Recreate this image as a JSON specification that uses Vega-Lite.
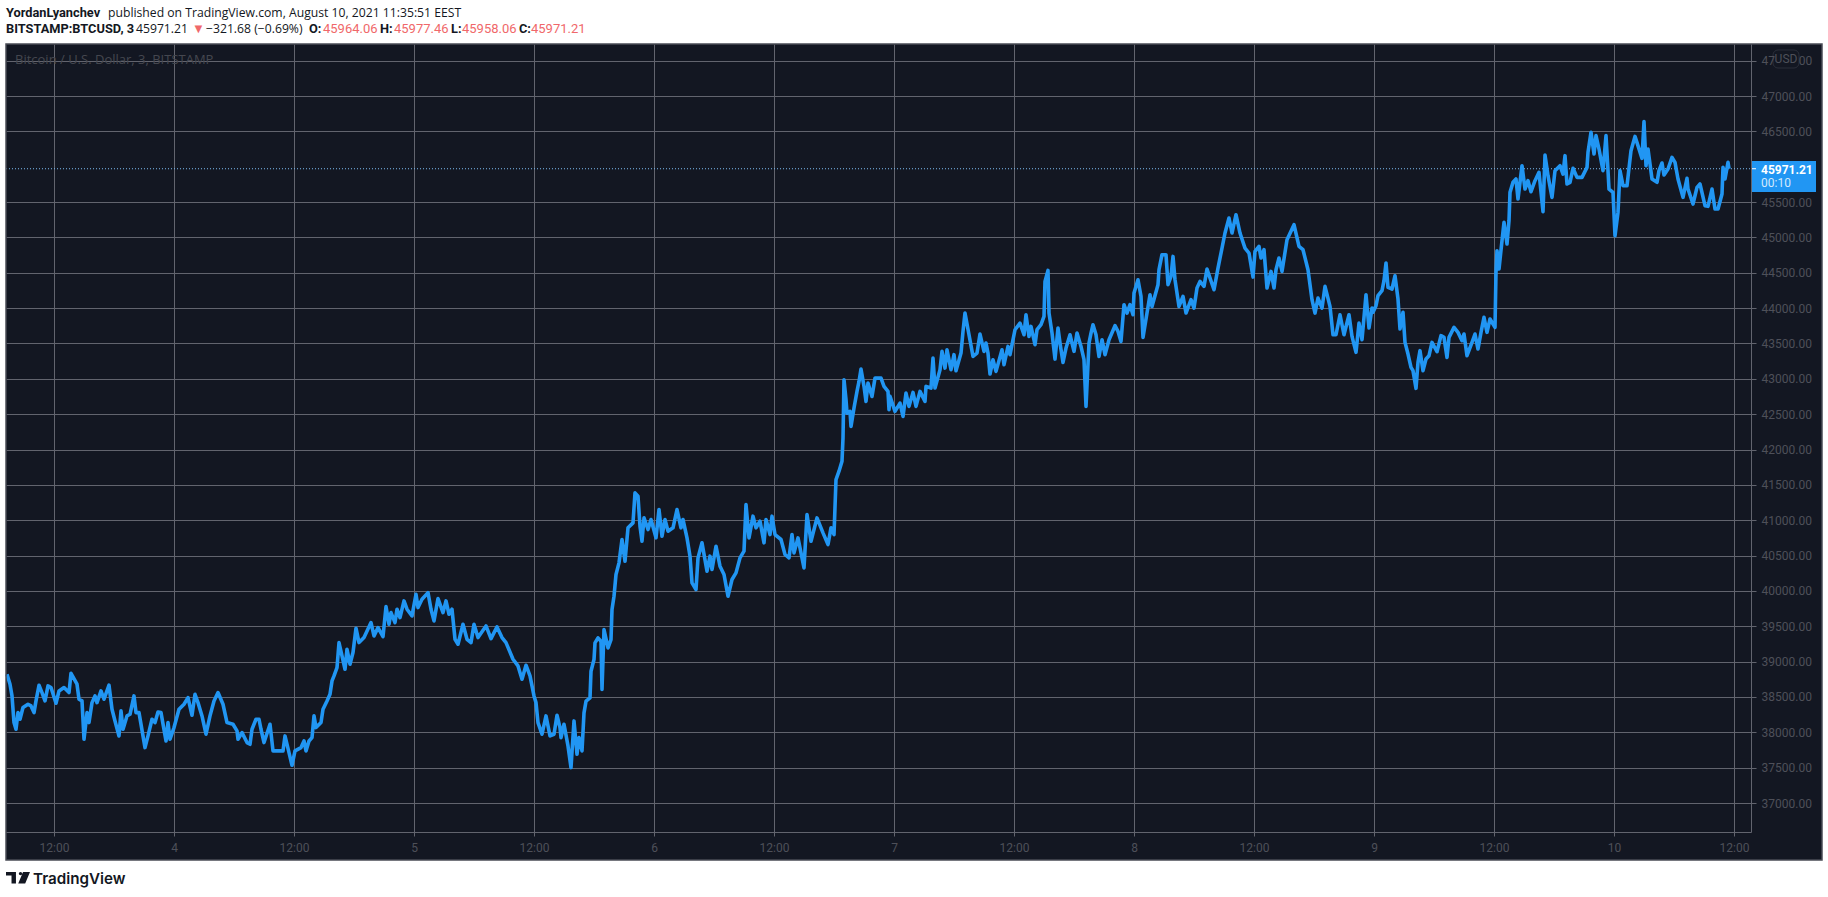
{
"$schema":"https://vega.github.io/schema/vega-lite/v6.json",
"width":1745,"height":788,
"autosize":"none",
"padding":{"left":6,"top":44,"right":77,"bottom":65},
"background":"#ffffff",
"view":{"fill":"#131722","stroke":null},
"config":{"text":{"font":"Roboto"}},
"datasets":{"btc":[
{"t":"2021-08-03T07:18Z","p":38821},{"t":"2021-08-03T07:36Z","p":38680},{"t":"2021-08-03T07:48Z","p":38515},{"t":"2021-08-03T08:00Z","p":38138},{"t":"2021-08-03T08:12Z","p":38043},{"t":"2021-08-03T08:24Z","p":38279},{"t":"2021-08-03T08:36Z","p":38185},{"t":"2021-08-03T08:54Z","p":38350},{"t":"2021-08-03T09:24Z","p":38397},{"t":"2021-08-03T09:42Z","p":38373},{"t":"2021-08-03T10:00Z","p":38279},{"t":"2021-08-03T10:12Z","p":38444},{"t":"2021-08-03T10:30Z","p":38666},{"t":"2021-08-03T10:48Z","p":38562},{"t":"2021-08-03T11:06Z","p":38444},{"t":"2021-08-03T11:24Z","p":38656},{"t":"2021-08-03T11:42Z","p":38633},{"t":"2021-08-03T12:12Z","p":38411},{"t":"2021-08-03T12:30Z","p":38585},{"t":"2021-08-03T13:00Z","p":38633},{"t":"2021-08-03T13:30Z","p":38562},{"t":"2021-08-03T13:42Z","p":38835},{"t":"2021-08-03T14:18Z","p":38680},{"t":"2021-08-03T14:30Z","p":38468},{"t":"2021-08-03T14:48Z","p":38444},{"t":"2021-08-03T15:00Z","p":37902},{"t":"2021-08-03T15:18Z","p":38279},{"t":"2021-08-03T15:30Z","p":38138},{"t":"2021-08-03T15:48Z","p":38420},{"t":"2021-08-03T16:06Z","p":38515},{"t":"2021-08-03T16:18Z","p":38420},{"t":"2021-08-03T16:42Z","p":38585},{"t":"2021-08-03T17:00Z","p":38468},{"t":"2021-08-03T17:30Z","p":38666},{"t":"2021-08-03T17:48Z","p":38326},{"t":"2021-08-03T18:06Z","p":38161},{"t":"2021-08-03T18:30Z","p":37949},{"t":"2021-08-03T18:42Z","p":38303},{"t":"2021-08-03T18:54Z","p":38043},{"t":"2021-08-03T19:18Z","p":38232},{"t":"2021-08-03T19:36Z","p":38255},{"t":"2021-08-03T20:00Z","p":38515},{"t":"2021-08-03T20:12Z","p":38279},{"t":"2021-08-03T20:30Z","p":38279},{"t":"2021-08-03T21:06Z","p":37784},{"t":"2021-08-03T21:24Z","p":37949},{"t":"2021-08-03T21:48Z","p":38185},{"t":"2021-08-03T22:06Z","p":38138},{"t":"2021-08-03T22:24Z","p":38288},{"t":"2021-08-03T22:42Z","p":38279},{"t":"2021-08-03T23:12Z","p":37878},{"t":"2021-08-03T23:24Z","p":38138},{"t":"2021-08-03T23:36Z","p":37902},
{"t":"2021-08-04T00:00Z","p":38067},{"t":"2021-08-04T00:30Z","p":38326},{"t":"2021-08-04T01:00Z","p":38397},{"t":"2021-08-04T01:24Z","p":38491},{"t":"2021-08-04T01:48Z","p":38241},{"t":"2021-08-04T02:06Z","p":38538},{"t":"2021-08-04T02:24Z","p":38420},{"t":"2021-08-04T02:48Z","p":38232},{"t":"2021-08-04T03:12Z","p":37973},{"t":"2021-08-04T03:36Z","p":38232},{"t":"2021-08-04T04:00Z","p":38444},{"t":"2021-08-04T04:24Z","p":38562},{"t":"2021-08-04T04:54Z","p":38397},{"t":"2021-08-04T05:18Z","p":38138},{"t":"2021-08-04T05:54Z","p":38114},{"t":"2021-08-04T06:18Z","p":38020},{"t":"2021-08-04T06:24Z","p":37902},{"t":"2021-08-04T06:48Z","p":37996},{"t":"2021-08-04T07:18Z","p":37855},{"t":"2021-08-04T07:36Z","p":37831},{"t":"2021-08-04T07:48Z","p":38043},{"t":"2021-08-04T08:12Z","p":38185},{"t":"2021-08-04T08:30Z","p":38185},{"t":"2021-08-04T08:42Z","p":38043},{"t":"2021-08-04T09:00Z","p":37855},{"t":"2021-08-04T09:36Z","p":38114},{"t":"2021-08-04T09:54Z","p":37737},{"t":"2021-08-04T10:30Z","p":37737},{"t":"2021-08-04T10:54Z","p":37737},{"t":"2021-08-04T11:06Z","p":37949},{"t":"2021-08-04T11:30Z","p":37713},{"t":"2021-08-04T11:48Z","p":37534},{"t":"2021-08-04T12:06Z","p":37737},{"t":"2021-08-04T12:42Z","p":37784},{"t":"2021-08-04T13:00Z","p":37878},{"t":"2021-08-04T13:12Z","p":37737},{"t":"2021-08-04T13:30Z","p":37878},{"t":"2021-08-04T13:48Z","p":37925},{"t":"2021-08-04T14:00Z","p":38232},{"t":"2021-08-04T14:12Z","p":38067},{"t":"2021-08-04T14:42Z","p":38138},{"t":"2021-08-04T14:54Z","p":38326},{"t":"2021-08-04T15:18Z","p":38444},{"t":"2021-08-04T15:36Z","p":38538},{"t":"2021-08-04T15:48Z","p":38727},{"t":"2021-08-04T16:00Z","p":38798},{"t":"2021-08-04T16:18Z","p":38916},{"t":"2021-08-04T16:30Z","p":39269},{"t":"2021-08-04T16:48Z","p":39081},{"t":"2021-08-04T17:06Z","p":38892},{"t":"2021-08-04T17:18Z","p":39175},{"t":"2021-08-04T17:36Z","p":38963},{"t":"2021-08-04T17:54Z","p":39128},{"t":"2021-08-04T18:12Z","p":39472},{"t":"2021-08-04T18:30Z","p":39269},{"t":"2021-08-04T19:00Z","p":39340},{"t":"2021-08-04T19:42Z","p":39552},{"t":"2021-08-04T20:00Z","p":39363},{"t":"2021-08-04T20:24Z","p":39481},{"t":"2021-08-04T20:54Z","p":39354},{"t":"2021-08-04T21:12Z","p":39778},{"t":"2021-08-04T21:30Z","p":39528},{"t":"2021-08-04T21:42Z","p":39694},{"t":"2021-08-04T22:06Z","p":39552},{"t":"2021-08-04T22:18Z","p":39741},{"t":"2021-08-04T22:36Z","p":39623},{"t":"2021-08-04T23:00Z","p":39859},{"t":"2021-08-04T23:18Z","p":39741},{"t":"2021-08-04T23:48Z","p":39646},
{"t":"2021-08-05T00:12Z","p":39953},{"t":"2021-08-05T00:24Z","p":39764},{"t":"2021-08-05T00:48Z","p":39882},{"t":"2021-08-05T01:24Z","p":39976},{"t":"2021-08-05T01:42Z","p":39741},{"t":"2021-08-05T02:00Z","p":39576},{"t":"2021-08-05T02:24Z","p":39892},{"t":"2021-08-05T02:54Z","p":39694},{"t":"2021-08-05T03:12Z","p":39859},{"t":"2021-08-05T03:30Z","p":39670},{"t":"2021-08-05T03:48Z","p":39741},{"t":"2021-08-05T04:06Z","p":39316},{"t":"2021-08-05T04:24Z","p":39246},{"t":"2021-08-05T04:54Z","p":39528},{"t":"2021-08-05T05:18Z","p":39316},{"t":"2021-08-05T05:42Z","p":39269},{"t":"2021-08-05T06:00Z","p":39528},{"t":"2021-08-05T06:24Z","p":39340},{"t":"2021-08-05T07:12Z","p":39505},{"t":"2021-08-05T07:42Z","p":39326},{"t":"2021-08-05T08:18Z","p":39491},{"t":"2021-08-05T08:48Z","p":39340},{"t":"2021-08-05T09:12Z","p":39269},{"t":"2021-08-05T09:54Z","p":39033},{"t":"2021-08-05T10:24Z","p":38939},{"t":"2021-08-05T10:48Z","p":38751},{"t":"2021-08-05T11:12Z","p":38949},{"t":"2021-08-05T11:36Z","p":38798},{"t":"2021-08-05T12:00Z","p":38515},{"t":"2021-08-05T12:12Z","p":38420},{"t":"2021-08-05T12:24Z","p":38138},{"t":"2021-08-05T12:48Z","p":37973},{"t":"2021-08-05T13:12Z","p":38232},{"t":"2021-08-05T13:36Z","p":37949},{"t":"2021-08-05T14:00Z","p":37973},{"t":"2021-08-05T14:18Z","p":38241},{"t":"2021-08-05T14:36Z","p":38067},{"t":"2021-08-05T14:42Z","p":37925},{"t":"2021-08-05T15:00Z","p":38114},{"t":"2021-08-05T15:24Z","p":37808},{"t":"2021-08-05T15:42Z","p":37501},{"t":"2021-08-05T16:00Z","p":38161},{"t":"2021-08-05T16:18Z","p":37690},{"t":"2021-08-05T16:30Z","p":37925},{"t":"2021-08-05T16:48Z","p":37737},{"t":"2021-08-05T17:00Z","p":38275},{"t":"2021-08-05T17:12Z","p":38440},{"t":"2021-08-05T17:36Z","p":38487},{"t":"2021-08-05T17:42Z","p":38864},{"t":"2021-08-05T18:00Z","p":39029},{"t":"2021-08-05T18:06Z","p":39265},{"t":"2021-08-05T18:24Z","p":39336},{"t":"2021-08-05T18:42Z","p":39289},{"t":"2021-08-05T18:48Z","p":38605},{"t":"2021-08-05T19:00Z","p":39454},{"t":"2021-08-05T19:24Z","p":39194},{"t":"2021-08-05T19:42Z","p":39312},{"t":"2021-08-05T19:48Z","p":39737},{"t":"2021-08-05T20:00Z","p":39925},{"t":"2021-08-05T20:12Z","p":40232},{"t":"2021-08-05T20:30Z","p":40397},{"t":"2021-08-05T20:48Z","p":40727},{"t":"2021-08-05T21:06Z","p":40420},{"t":"2021-08-05T21:24Z","p":40892},{"t":"2021-08-05T21:54Z","p":40962},{"t":"2021-08-05T22:06Z","p":41387},{"t":"2021-08-05T22:24Z","p":41340},{"t":"2021-08-05T22:36Z","p":40915},{"t":"2021-08-05T22:48Z","p":40703},{"t":"2021-08-05T23:00Z","p":41033},{"t":"2021-08-05T23:24Z","p":40868},{"t":"2021-08-05T23:42Z","p":41010},
{"t":"2021-08-06T00:12Z","p":40750},{"t":"2021-08-06T00:30Z","p":41151},{"t":"2021-08-06T00:48Z","p":40774},{"t":"2021-08-06T01:06Z","p":41010},{"t":"2021-08-06T01:24Z","p":40845},{"t":"2021-08-06T01:54Z","p":40892},{"t":"2021-08-06T02:18Z","p":41151},{"t":"2021-08-06T02:42Z","p":40892},{"t":"2021-08-06T02:54Z","p":41010},{"t":"2021-08-06T03:18Z","p":40750},{"t":"2021-08-06T03:36Z","p":40491},{"t":"2021-08-06T03:48Z","p":40114},{"t":"2021-08-06T04:12Z","p":40019},{"t":"2021-08-06T04:24Z","p":40467},{"t":"2021-08-06T04:48Z","p":40680},{"t":"2021-08-06T05:18Z","p":40279},{"t":"2021-08-06T05:36Z","p":40491},{"t":"2021-08-06T05:48Z","p":40302},{"t":"2021-08-06T06:12Z","p":40632},{"t":"2021-08-06T06:36Z","p":40350},{"t":"2021-08-06T07:00Z","p":40232},{"t":"2021-08-06T07:24Z","p":39925},{"t":"2021-08-06T07:48Z","p":40161},{"t":"2021-08-06T08:12Z","p":40255},{"t":"2021-08-06T08:36Z","p":40467},{"t":"2021-08-06T09:00Z","p":40562},{"t":"2021-08-06T09:12Z","p":41222},{"t":"2021-08-06T09:30Z","p":40750},{"t":"2021-08-06T09:54Z","p":41057},{"t":"2021-08-06T10:12Z","p":40892},{"t":"2021-08-06T10:36Z","p":40986},{"t":"2021-08-06T11:00Z","p":40680},{"t":"2021-08-06T11:12Z","p":41010},{"t":"2021-08-06T11:36Z","p":40797},{"t":"2021-08-06T11:48Z","p":41057},{"t":"2021-08-06T12:06Z","p":40797},{"t":"2021-08-06T12:42Z","p":40727},{"t":"2021-08-06T13:06Z","p":40515},{"t":"2021-08-06T13:30Z","p":40467},{"t":"2021-08-06T13:48Z","p":40797},{"t":"2021-08-06T14:00Z","p":40538},{"t":"2021-08-06T14:24Z","p":40750},{"t":"2021-08-06T14:42Z","p":40538},{"t":"2021-08-06T15:00Z","p":40326},{"t":"2021-08-06T15:18Z","p":41080},{"t":"2021-08-06T15:42Z","p":40703},{"t":"2021-08-06T16:18Z","p":41033},{"t":"2021-08-06T16:54Z","p":40821},{"t":"2021-08-06T17:24Z","p":40656},{"t":"2021-08-06T17:42Z","p":40892},{"t":"2021-08-06T18:00Z","p":40797},{"t":"2021-08-06T18:12Z","p":41575},{"t":"2021-08-06T18:30Z","p":41693},{"t":"2021-08-06T18:48Z","p":41835},{"t":"2021-08-06T18:54Z","p":42162},{"t":"2021-08-06T19:00Z","p":42987},{"t":"2021-08-06T19:12Z","p":42704},{"t":"2021-08-06T19:18Z","p":42515},{"t":"2021-08-06T19:36Z","p":42539},{"t":"2021-08-06T19:42Z","p":42327},{"t":"2021-08-06T20:00Z","p":42586},{"t":"2021-08-06T20:18Z","p":42822},{"t":"2021-08-06T20:30Z","p":42963},{"t":"2021-08-06T20:42Z","p":43138},{"t":"2021-08-06T21:00Z","p":42893},{"t":"2021-08-06T21:12Z","p":42680},{"t":"2021-08-06T21:24Z","p":42940},{"t":"2021-08-06T21:48Z","p":42751},{"t":"2021-08-06T22:06Z","p":43010},{"t":"2021-08-06T22:42Z","p":43010},{"t":"2021-08-06T23:00Z","p":42893},{"t":"2021-08-06T23:24Z","p":42822},{"t":"2021-08-06T23:30Z","p":42563},{"t":"2021-08-06T23:36Z","p":42751},
{"t":"2021-08-07T00:06Z","p":42539},{"t":"2021-08-07T00:36Z","p":42657},{"t":"2021-08-07T00:54Z","p":42468},{"t":"2021-08-07T01:12Z","p":42798},{"t":"2021-08-07T01:30Z","p":42610},{"t":"2021-08-07T01:54Z","p":42808},{"t":"2021-08-07T02:12Z","p":42610},{"t":"2021-08-07T02:36Z","p":42822},{"t":"2021-08-07T03:06Z","p":42680},{"t":"2021-08-07T03:12Z","p":42893},{"t":"2021-08-07T03:42Z","p":42869},{"t":"2021-08-07T03:54Z","p":43293},{"t":"2021-08-07T04:06Z","p":42869},{"t":"2021-08-07T04:36Z","p":43128},{"t":"2021-08-07T04:48Z","p":43388},{"t":"2021-08-07T05:06Z","p":43152},{"t":"2021-08-07T05:18Z","p":43411},{"t":"2021-08-07T05:42Z","p":43128},{"t":"2021-08-07T06:00Z","p":43341},{"t":"2021-08-07T06:12Z","p":43114},{"t":"2021-08-07T06:42Z","p":43364},{"t":"2021-08-07T06:54Z","p":43671},{"t":"2021-08-07T07:06Z","p":43930},{"t":"2021-08-07T07:30Z","p":43623},{"t":"2021-08-07T07:54Z","p":43317},{"t":"2021-08-07T08:18Z","p":43364},{"t":"2021-08-07T08:36Z","p":43633},{"t":"2021-08-07T09:00Z","p":43388},{"t":"2021-08-07T09:12Z","p":43506},{"t":"2021-08-07T09:24Z","p":43364},{"t":"2021-08-07T09:36Z","p":43067},{"t":"2021-08-07T09:54Z","p":43270},{"t":"2021-08-07T10:12Z","p":43105},{"t":"2021-08-07T10:48Z","p":43411},{"t":"2021-08-07T11:00Z","p":43199},{"t":"2021-08-07T11:24Z","p":43458},{"t":"2021-08-07T11:36Z","p":43341},{"t":"2021-08-07T12:06Z","p":43694},{"t":"2021-08-07T12:36Z","p":43788},{"t":"2021-08-07T13:00Z","p":43623},{"t":"2021-08-07T13:12Z","p":43906},{"t":"2021-08-07T13:30Z","p":43600},{"t":"2021-08-07T13:42Z","p":43741},{"t":"2021-08-07T14:06Z","p":43482},{"t":"2021-08-07T14:18Z","p":43694},{"t":"2021-08-07T14:42Z","p":43765},{"t":"2021-08-07T15:00Z","p":43883},{"t":"2021-08-07T15:06Z","p":44378},{"t":"2021-08-07T15:24Z","p":44533},{"t":"2021-08-07T15:30Z","p":43930},{"t":"2021-08-07T15:48Z","p":43647},{"t":"2021-08-07T16:06Z","p":43279},{"t":"2021-08-07T16:24Z","p":43718},{"t":"2021-08-07T16:36Z","p":43506},{"t":"2021-08-07T16:54Z","p":43232},{"t":"2021-08-07T17:12Z","p":43435},{"t":"2021-08-07T17:36Z","p":43623},{"t":"2021-08-07T18:00Z","p":43388},{"t":"2021-08-07T18:18Z","p":43647},{"t":"2021-08-07T18:42Z","p":43458},{"t":"2021-08-07T19:00Z","p":43270},{"t":"2021-08-07T19:12Z","p":42610},{"t":"2021-08-07T19:30Z","p":43506},{"t":"2021-08-07T19:42Z","p":43647},{"t":"2021-08-07T19:54Z","p":43765},{"t":"2021-08-07T20:12Z","p":43623},{"t":"2021-08-07T20:30Z","p":43317},{"t":"2021-08-07T20:48Z","p":43553},{"t":"2021-08-07T21:06Z","p":43341},{"t":"2021-08-07T21:30Z","p":43553},{"t":"2021-08-07T22:06Z","p":43751},{"t":"2021-08-07T22:24Z","p":43671},{"t":"2021-08-07T22:42Z","p":43529},{"t":"2021-08-07T23:00Z","p":44048},{"t":"2021-08-07T23:18Z","p":43930},{"t":"2021-08-07T23:36Z","p":44048},{"t":"2021-08-07T23:54Z","p":43906},
{"t":"2021-08-08T00:00Z","p":44213},{"t":"2021-08-08T00:24Z","p":44401},{"t":"2021-08-08T00:42Z","p":44166},{"t":"2021-08-08T00:54Z","p":43586},{"t":"2021-08-08T01:18Z","p":43930},{"t":"2021-08-08T01:36Z","p":44189},{"t":"2021-08-08T01:48Z","p":44024},{"t":"2021-08-08T02:24Z","p":44331},{"t":"2021-08-08T02:30Z","p":44543},{"t":"2021-08-08T02:48Z","p":44755},{"t":"2021-08-08T03:12Z","p":44755},{"t":"2021-08-08T03:24Z","p":44331},{"t":"2021-08-08T03:42Z","p":44449},{"t":"2021-08-08T03:54Z","p":44731},{"t":"2021-08-08T04:06Z","p":44401},{"t":"2021-08-08T04:30Z","p":44024},{"t":"2021-08-08T04:54Z","p":44166},{"t":"2021-08-08T05:12Z","p":43930},{"t":"2021-08-08T05:42Z","p":44119},{"t":"2021-08-08T06:00Z","p":44001},{"t":"2021-08-08T06:18Z","p":44284},{"t":"2021-08-08T06:36Z","p":44378},{"t":"2021-08-08T07:00Z","p":44307},{"t":"2021-08-08T07:18Z","p":44552},{"t":"2021-08-08T08:00Z","p":44260},{"t":"2021-08-08T08:24Z","p":44566},{"t":"2021-08-08T08:42Z","p":44779},{"t":"2021-08-08T09:06Z","p":45062},{"t":"2021-08-08T09:30Z","p":45274},{"t":"2021-08-08T09:48Z","p":45062},{"t":"2021-08-08T10:12Z","p":45321},{"t":"2021-08-08T10:36Z","p":45062},{"t":"2021-08-08T11:06Z","p":44849},{"t":"2021-08-08T11:30Z","p":44779},{"t":"2021-08-08T11:54Z","p":44439},{"t":"2021-08-08T12:06Z","p":44802},{"t":"2021-08-08T12:30Z","p":44873},{"t":"2021-08-08T12:42Z","p":44708},{"t":"2021-08-08T13:00Z","p":44826},{"t":"2021-08-08T13:18Z","p":44284},{"t":"2021-08-08T13:42Z","p":44519},{"t":"2021-08-08T14:00Z","p":44284},{"t":"2021-08-08T14:12Z","p":44543},{"t":"2021-08-08T14:30Z","p":44708},{"t":"2021-08-08T14:48Z","p":44519},{"t":"2021-08-08T15:18Z","p":44967},{"t":"2021-08-08T16:00Z","p":45179},{"t":"2021-08-08T16:30Z","p":44873},{"t":"2021-08-08T16:54Z","p":44826},{"t":"2021-08-08T17:24Z","p":44543},{"t":"2021-08-08T17:48Z","p":44119},{"t":"2021-08-08T18:06Z","p":43930},{"t":"2021-08-08T18:24Z","p":44142},{"t":"2021-08-08T18:48Z","p":44001},{"t":"2021-08-08T19:06Z","p":44307},{"t":"2021-08-08T19:36Z","p":44024},{"t":"2021-08-08T19:54Z","p":43623},{"t":"2021-08-08T20:12Z","p":43623},{"t":"2021-08-08T20:36Z","p":43906},{"t":"2021-08-08T21:00Z","p":43623},{"t":"2021-08-08T21:30Z","p":43906},{"t":"2021-08-08T21:48Z","p":43600},{"t":"2021-08-08T22:12Z","p":43374},{"t":"2021-08-08T22:30Z","p":43788},{"t":"2021-08-08T22:48Z","p":43553},{"t":"2021-08-08T23:12Z","p":44189},{"t":"2021-08-08T23:30Z","p":43718},{"t":"2021-08-08T23:48Z","p":44001},{"t":"2021-08-08T23:54Z","p":43940},
{"t":"2021-08-09T00:12Z","p":44034},{"t":"2021-08-09T00:24Z","p":44176},{"t":"2021-08-09T00:48Z","p":44246},{"t":"2021-08-09T01:00Z","p":44388},{"t":"2021-08-09T01:12Z","p":44638},{"t":"2021-08-09T01:24Z","p":44293},{"t":"2021-08-09T01:48Z","p":44270},{"t":"2021-08-09T02:06Z","p":44458},{"t":"2021-08-09T02:24Z","p":44128},{"t":"2021-08-09T02:36Z","p":43704},{"t":"2021-08-09T02:54Z","p":43940},{"t":"2021-08-09T03:06Z","p":43515},{"t":"2021-08-09T03:24Z","p":43350},{"t":"2021-08-09T03:42Z","p":43162},{"t":"2021-08-09T03:54Z","p":43115},{"t":"2021-08-09T04:12Z","p":42865},{"t":"2021-08-09T04:24Z","p":43233},{"t":"2021-08-09T04:36Z","p":43398},{"t":"2021-08-09T04:54Z","p":43115},{"t":"2021-08-09T05:12Z","p":43280},{"t":"2021-08-09T05:30Z","p":43327},{"t":"2021-08-09T05:48Z","p":43515},{"t":"2021-08-09T06:18Z","p":43383},{"t":"2021-08-09T06:42Z","p":43610},{"t":"2021-08-09T07:00Z","p":43586},{"t":"2021-08-09T07:18Z","p":43303},{"t":"2021-08-09T07:30Z","p":43586},{"t":"2021-08-09T08:00Z","p":43728},{"t":"2021-08-09T08:24Z","p":43657},{"t":"2021-08-09T08:48Z","p":43539},{"t":"2021-08-09T09:00Z","p":43633},{"t":"2021-08-09T09:18Z","p":43327},{"t":"2021-08-09T09:48Z","p":43515},{"t":"2021-08-09T10:06Z","p":43633},{"t":"2021-08-09T10:24Z","p":43421},{"t":"2021-08-09T10:42Z","p":43657},{"t":"2021-08-09T11:00Z","p":43869},{"t":"2021-08-09T11:18Z","p":43657},{"t":"2021-08-09T11:36Z","p":43846},{"t":"2021-08-09T12:06Z","p":43728},{"t":"2021-08-09T12:12Z","p":44506},{"t":"2021-08-09T12:18Z","p":44812},{"t":"2021-08-09T12:30Z","p":44553},{"t":"2021-08-09T12:48Z","p":44953},{"t":"2021-08-09T13:00Z","p":45213},{"t":"2021-08-09T13:18Z","p":44906},{"t":"2021-08-09T13:30Z","p":45236},{"t":"2021-08-09T13:36Z","p":45637},{"t":"2021-08-09T13:54Z","p":45779},{"t":"2021-08-09T14:12Z","p":45826},{"t":"2021-08-09T14:24Z","p":45543},{"t":"2021-08-09T14:48Z","p":46014},{"t":"2021-08-09T15:06Z","p":45684},{"t":"2021-08-09T15:24Z","p":45802},{"t":"2021-08-09T15:42Z","p":45647},{"t":"2021-08-09T16:06Z","p":45802},{"t":"2021-08-09T16:30Z","p":45920},{"t":"2021-08-09T16:54Z","p":45364},{"t":"2021-08-09T17:06Z","p":46165},{"t":"2021-08-09T17:24Z","p":45873},{"t":"2021-08-09T17:48Z","p":45566},{"t":"2021-08-09T18:06Z","p":45944},{"t":"2021-08-09T18:36Z","p":46014},{"t":"2021-08-09T18:54Z","p":45896},{"t":"2021-08-09T19:06Z","p":46156},{"t":"2021-08-09T19:18Z","p":45755},{"t":"2021-08-09T19:36Z","p":45779},{"t":"2021-08-09T19:54Z","p":45977},{"t":"2021-08-09T20:18Z","p":45849},{"t":"2021-08-09T20:48Z","p":45849},{"t":"2021-08-09T21:18Z","p":45991},{"t":"2021-08-09T21:24Z","p":46203},{"t":"2021-08-09T21:42Z","p":46486},{"t":"2021-08-09T22:00Z","p":46179},{"t":"2021-08-09T22:12Z","p":46439},{"t":"2021-08-09T22:30Z","p":46250},{"t":"2021-08-09T22:54Z","p":45944},{"t":"2021-08-09T23:12Z","p":46439},{"t":"2021-08-09T23:24Z","p":45944},{"t":"2021-08-09T23:30Z","p":45684},{"t":"2021-08-09T23:54Z","p":45637},
{"t":"2021-08-10T00:06Z","p":45024},{"t":"2021-08-10T00:24Z","p":45354},{"t":"2021-08-10T00:36Z","p":45944},{"t":"2021-08-10T00:54Z","p":45731},{"t":"2021-08-10T01:18Z","p":45731},{"t":"2021-08-10T01:42Z","p":46227},{"t":"2021-08-10T02:06Z","p":46429},{"t":"2021-08-10T02:48Z","p":46118},{"t":"2021-08-10T03:00Z","p":46637},{"t":"2021-08-10T03:12Z","p":46014},{"t":"2021-08-10T03:24Z","p":46250},{"t":"2021-08-10T03:48Z","p":45826},{"t":"2021-08-10T04:18Z","p":45779},{"t":"2021-08-10T04:30Z","p":45944},{"t":"2021-08-10T04:48Z","p":46052},{"t":"2021-08-10T05:00Z","p":45882},{"t":"2021-08-10T05:24Z","p":45967},{"t":"2021-08-10T05:48Z","p":46132},{"t":"2021-08-10T06:06Z","p":46062},{"t":"2021-08-10T06:24Z","p":45826},{"t":"2021-08-10T06:54Z","p":45566},{"t":"2021-08-10T07:18Z","p":45835},{"t":"2021-08-10T07:24Z","p":45684},{"t":"2021-08-10T07:54Z","p":45472},{"t":"2021-08-10T08:18Z","p":45708},{"t":"2021-08-10T08:36Z","p":45755},{"t":"2021-08-10T09:06Z","p":45449},{"t":"2021-08-10T09:24Z","p":45439},{"t":"2021-08-10T09:48Z","p":45684},{"t":"2021-08-10T10:06Z","p":45401},{"t":"2021-08-10T10:24Z","p":45401},{"t":"2021-08-10T10:48Z","p":45614},{"t":"2021-08-10T10:54Z","p":45991},{"t":"2021-08-10T11:06Z","p":45826},{"t":"2021-08-10T11:24Z","p":46062},{"t":"2021-08-10T11:30Z","p":45971.21}
]},
"encoding":{
"x":{"field":"t","type":"temporal","axis":null,"scale":{"type":"utc","domain":[1627974720000,1628602920000]}},
"y":{"field":"p","type":"quantitative","axis":null,"scale":{"domain":[36590,47735.5],"nice":false,"zero":false}}
},
"layer":[
{"data":{"values":[
{"t":"2021-08-10T13:42Z","t2":"2021-08-10T20:48Z","p":47735.5,"p2":36194},
{"t":"2021-08-03T07:12Z","t2":"2021-08-10T13:42Z","p":36590,"p2":36194}
]},
"mark":{"type":"rect","fill":"#131722"},
"encoding":{
"x":{"field":"t","type":"temporal","scale":{"type":"utc","domain":[1627974720000,1628602920000]},"axis":{"orient":"bottom","title":null,"grid":true,"gridColor":"#62646e","gridWidth":1,"labels":false,"ticks":false,"domain":false,"zindex":0,"values":[1627992000000,1628035200000,1628078400000,1628121600000,1628164800000,1628208000000,1628251200000,1628294400000,1628337600000,1628380800000,1628424000000,1628467200000,1628510400000,1628553600000,1628596800000]}},
"x2":{"field":"t2"},
"y":{"field":"p","type":"quantitative","scale":{"domain":[36590,47735.5],"nice":false,"zero":false},"axis":{"orient":"right","title":null,"grid":true,"gridColor":"#62646e","gridWidth":1,"labels":false,"ticks":false,"domain":false,"zindex":0,"values":[37000,37500,38000,38500,39000,39500,40000,40500,41000,41500,42000,42500,43000,43500,44000,44500,45000,45500,46500,47000,47500]}},
"y2":{"field":"p2"}
}},
{"data":{"values":[{"t":"2021-08-03T08:06Z","p":47453,"label":"Bitcoin / U.S. Dollar, 3, BITSTAMP"}]},
"mark":{"type":"text","align":"left","baseline":"alphabetic","font":"Open Sans","fontSize":13,"color":"#45474f"},
"encoding":{"text":{"field":"label"}}},
{"data":{"values":[{"t":"2021-08-03T07:12Z","t2":"2021-08-10T13:42Z","p":45971.21}]},
"mark":{"type":"rule","color":"#7dbcf0","strokeWidth":1,"strokeDash":[1,2]},
"encoding":{"x2":{"field":"t2"}}},
{"data":{"name":"btc"},
"mark":{"type":"line","color":"#2196f3","strokeWidth":3.6,"strokeJoin":"round"},
"encoding":{
"x":{"field":"t","type":"temporal","scale":{"type":"utc","domain":[1627974720000,1628602920000]},"axis":{"orient":"bottom","title":null,"grid":false,"domainColor":"#62646e","tickColor":"#62646e","tickSize":4,"labelColor":"#4e5059","labelFont":"Roboto","labelFontSize":12,"labelPadding":6,"labelFlush":false,"labelOverlap":false,"zindex":1,"values":[1627992000000,1628035200000,1628078400000,1628121600000,1628164800000,1628208000000,1628251200000,1628294400000,1628337600000,1628380800000,1628424000000,1628467200000,1628510400000,1628553600000,1628596800000],"labelExpr":"utchours(datum.value)===12 ? '12:00' : utcFormat(datum.value,'%-d')"}},
"y":{"field":"p","type":"quantitative","scale":{"domain":[36590,47735.5],"nice":false,"zero":false},"axis":{"orient":"right","title":null,"grid":false,"domainColor":"#62646e","tickColor":"#62646e","tickSize":5,"labelColor":"#4e5059","labelFont":"Roboto","labelFontSize":12,"labelPadding":5,"labelOverlap":false,"labelFlush":false,"zindex":1,"format":".2f","values":[37000,37500,38000,38500,39000,39500,40000,40500,41000,41500,42000,42500,43000,43500,44000,44500,45000,45500,46500,47000,47500],"labelExpr":"datum.value===47500 ? '47\u00a0\u00a0\u00a0\u00a0\u00a0\u00a0\u00a0\u00a000' : datum.label"}}
}},
{"data":{"values":[{"t":"2021-08-10T13:42Z","t2":"2021-08-10T20:12Z","p":46081,"p2":45642}]},
"mark":{"type":"rect","fill":"#2196f3"},
"encoding":{"x2":{"field":"t2"},"y2":{"field":"p2"}}},
{"data":{"values":[{"t":"2021-08-10T13:42Z","t2":"2021-08-10T14:12Z","p":45971.21}]},
"mark":{"type":"rule","color":"#ffffff","strokeWidth":1},
"encoding":{"x2":{"field":"t2"}}},
{"data":{"values":[{"t":"2021-08-10T14:42Z","p":45953,"label":"45971.21"}]},
"mark":{"type":"text","align":"left","baseline":"middle","fontSize":12,"fontWeight":"bold","color":"#ffffff"},
"encoding":{"text":{"field":"label"}}},
{"data":{"values":[{"t":"2021-08-10T14:42Z","p":45769,"label":"00:10"}]},
"mark":{"type":"text","align":"left","baseline":"middle","fontSize":12,"color":"#d3e9fc"},
"encoding":{"text":{"field":"label"}}},
{"data":{"values":[{"t":"2021-08-10T15:54Z","t2":"2021-08-10T18:30Z","p":47651,"p2":47396}]},
"mark":{"type":"rect","fill":"#131722","stroke":"#2a2e39","strokeWidth":1,"cornerRadius":5},
"encoding":{"x2":{"field":"t2"},"y2":{"field":"p2"}}},
{"data":{"values":[{"t":"2021-08-10T17:12Z","p":47524,"label":"USD"}]},
"mark":{"type":"text","align":"center","baseline":"middle","fontSize":12,"color":"#4e5059"},
"encoding":{"text":{"field":"label"}}},
{"data":{"values":[{"t":"2021-08-03T07:12Z","t2":"2021-08-10T20:48Z","p":47735.5,"p2":36194}]},
"mark":{"type":"rect","fillOpacity":0,"stroke":"#4a4c55","strokeWidth":1.5},
"encoding":{"x2":{"field":"t2"},"y2":{"field":"p2"}}},
{"data":{"values":[
{"t":"2021-08-03T07:12Z","p":48117,"label":"YordanLyanchev"},
{"t":"2021-08-03T07:12Z","p":47891,"label":"BITSTAMP:BTCUSD, 3"},
{"t":"2021-08-04T13:30Z","p":47891,"label":"O:"},
{"t":"2021-08-04T20:36Z","p":47891,"label":"H:"},
{"t":"2021-08-05T03:42Z","p":47891,"label":"L:"},
{"t":"2021-08-05T10:30Z","p":47891,"label":"C:"}
]},
"mark":{"type":"text","align":"left","baseline":"alphabetic","fontSize":12.8,"fontWeight":"bold","color":"#131722"},
"encoding":{"text":{"field":"label"}}},
{"data":{"values":[
{"t":"2021-08-03T17:24Z","p":48117,"label":"published on TradingView.com, August 10, 2021 11:35:51 EEST"},
{"t":"2021-08-03T20:12Z","p":47891,"label":"45971.21"},
{"t":"2021-08-04T03:12Z","p":47891,"label":"−321.68 (−0.69%)"}
]},
"mark":{"type":"text","align":"left","baseline":"alphabetic","font":"Open Sans","fontSize":12.2,"color":"#131722"},
"encoding":{"text":{"field":"label"}}},
{"data":{"values":[
{"t":"2021-08-04T01:48Z","p":47891,"label":"▼"},
{"t":"2021-08-04T14:54Z","p":47891,"label":"45964.06"},
{"t":"2021-08-04T22:00Z","p":47891,"label":"45977.46"},
{"t":"2021-08-05T04:48Z","p":47891,"label":"45958.06"},
{"t":"2021-08-05T11:42Z","p":47891,"label":"45971.21"}
]},
"mark":{"type":"text","align":"left","baseline":"alphabetic","fontSize":13,"color":"#f0686a"},
"encoding":{"text":{"field":"label"}}},
{"data":{"values":[{"t":"2021-08-03T08:24Z","p":35947}]},
"mark":{"type":"point","filled":true,"opacity":1,"color":"#131722","size":576,"shape":"M-1,-.46H-.17V.5H-.54V-.17H-1ZM.07,-.32a.14,.14 0 1 0 .28,0a.14,.14 0 1 0 -.28,0ZM.42,-.46H1L.6,.5H.02Z"}},
{"data":{"values":[{"t":"2021-08-03T09:54Z","p":35855,"label":"TradingView"}]},
"mark":{"type":"text","align":"left","baseline":"alphabetic","font":"Inter","fontSize":15.2,"fontWeight":600,"color":"#131722"},
"encoding":{"text":{"field":"label"}}}
],
"resolve":{"axis":{"x":"independent","y":"independent"}}
}
